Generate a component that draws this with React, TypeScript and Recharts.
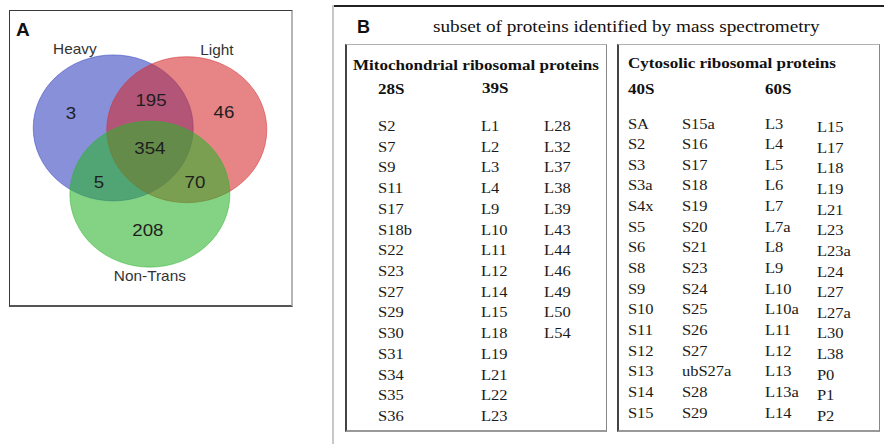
import { ScatterChart, Scatter, XAxis, YAxis } from "recharts";

// ---- panel A: Venn of identified proteins ----
const SET_NAMES = ["Heavy", "Light", "Non-Trans"];
// region order: H only, H∩L, L only, all three, H∩N, L∩N, N only
const REGION_COUNTS = [3, 195, 46, 354, 5, 70, 208];

// ---- panel B: protein lists ----
const MITO_28S = ["S2", "S7", "S9", "S11", "S17", "S18b", "S22", "S23", "S27", "S29", "S30", "S31", "S34", "S35", "S36"];
const MITO_39S = [
  "L1", "L2", "L3", "L4", "L9", "L10", "L11", "L12", "L14", "L15", "L18", "L19", "L21", "L22", "L23",
  "L28", "L32", "L37", "L38", "L39", "L43", "L44", "L46", "L49", "L50", "L54",
];
const CYTO_40S = [
  "SA", "S2", "S3", "S3a", "S4x", "S5", "S6", "S8", "S9", "S10", "S11", "S12", "S13", "S14", "S15",
  "S15a", "S16", "S17", "S18", "S19", "S20", "S21", "S23", "S24", "S25", "S26", "S27", "ubS27a", "S28", "S29",
];
const CYTO_60S = [
  "L3", "L4", "L5", "L6", "L7", "L7a", "L8", "L9", "L10", "L10a", "L11", "L12", "L13", "L13a", "L14",
  "L15", "L17", "L18", "L19", "L21", "L23", "L23a", "L24", "L27", "L27a", "L30", "L38", "P0", "P1", "P2",
];

// layout (percent of panel A box) - kept apart from the values
const SET_CENTERS = [[36.7, 39.7], [62.6, 40.3], [49.6, 62.0]];
const SET_LABEL_POS = [[23.2, 13.1], [73.2, 13.5], [49.6, 89.6]];
const REGION_POS = [[21.8, 34.7], [50.0, 30.3], [75.7, 34.3], [49.6, 46.5], [31.7, 57.9], [65.5, 57.9], [48.9, 74.1]];
const SET_COLORS = ["#3140be", "#d42b2f", "#2bb42b"];

const ROWS = 15;
const MITO_COL_X = [0.126, 0.519, 0.76];
const CYTO_COL_X = [0.038, 0.245, 0.563, 0.762];
const CYTO_COL_DY = [-1, -1, -1, 2.5];

const STRETCH = 1.1;
const SANS = "'Liberation Sans', Arial, sans-serif";
const SERIF = "'Liberation Serif', 'Times New Roman', serif";

const splitCols = (list: string[]) => {
  const out: string[][] = [];
  for (let i = 0; i < list.length; i += ROWS) out.push(list.slice(i, i + ROWS));
  return out;
};

const tablePoints = (cols: string[][], colX: number[], colDy?: number[]) =>
  cols.flatMap((col, c) =>
    col.map((label, row) => ({ x: colX[c], row, label, dy: colDy ? colDy[c] : 0 })),
  );

const setData = SET_NAMES.map((name, i) => ({ name, x: SET_CENTERS[i][0], y: SET_CENTERS[i][1], color: SET_COLORS[i] }));
const setLabelData = SET_NAMES.map((name, i) => ({ name, x: SET_LABEL_POS[i][0], y: SET_LABEL_POS[i][1] }));
const regionData = REGION_COUNTS.map((v, i) => ({ v, x: REGION_POS[i][0], y: REGION_POS[i][1] }));

const mitoData = tablePoints([MITO_28S, ...splitCols(MITO_39S)], MITO_COL_X);
const cytoData = tablePoints([...splitCols(CYTO_40S), ...splitCols(CYTO_60S)], CYTO_COL_X, CYTO_COL_DY);

const SetBlob = (p: any) => (
  <ellipse
    cx={p.cx}
    cy={p.cy}
    rx={80}
    ry={73}
    fill={p.payload.color}
    fillOpacity={0.58}
    stroke={p.payload.color}
    strokeOpacity={0.5}
    strokeWidth={1}
  />
);

const SetLabel = (p: any) => (
  <text
    transform={`translate(${p.cx},${p.cy + 5}) scale(${STRETCH},1)`}
    textAnchor="middle"
    fontFamily={SANS}
    fontSize={14}
    fill="#333"
  >
    {p.payload.name}
  </text>
);

const RegionLabel = (p: any) => (
  <text
    transform={`translate(${p.cx},${p.cy + 6}) scale(${STRETCH},1)`}
    textAnchor="middle"
    fontFamily={SANS}
    fontSize={17}
    fill="#1e1e1e"
  >
    {p.payload.v}
  </text>
);

const CellText = (p: any) => (
  <text
    transform={`translate(${p.cx},${p.cy + p.payload.dy}) scale(${STRETCH},1)`}
    fontFamily={SERIF}
    fontSize={15}
    fill="#1a1a1a"
  >
    {p.payload.label}
  </text>
);

const Stretched = ({ x, y, size, bold, children, family = SERIF }: any) => (
  <text
    transform={`translate(${x},${y}) scale(${STRETCH},1)`}
    fontFamily={family}
    fontSize={size}
    fontWeight={bold ? 700 : 400}
    fill="#111"
  >
    {children}
  </text>
);

function ProteinTable({ data, width, height, top, bottom }: any) {
  return (
    <ScatterChart width={width} height={height} margin={{ top, bottom, left: 0, right: 0 }}>
      <XAxis type="number" dataKey="x" domain={[0, 1]} hide />
      <YAxis type="number" dataKey="row" domain={[0, ROWS - 1]} reversed hide />
      <Scatter data={data} shape={CellText} isAnimationActive={false} />
    </ScatterChart>
  );
}

export default function App() {
  return (
    <div style={{ position: "absolute", left: 0, top: 0, width: 884, height: 444, background: "#fff", overflow: "hidden" }}>
      {/* frames */}
      <div
        style={{
          position: "absolute", left: 9, top: 10, width: 284, height: 297, boxSizing: "border-box",
          borderTop: "1px solid #3a3a3a", borderLeft: "1px solid #3a3a3a",
          borderRight: "2px solid #b5b5b5", borderBottom: "2px solid #555",
        }}
      />
      <div style={{ position: "absolute", left: 333, top: 5, width: 551, height: 2, background: "#222" }} />
      <div style={{ position: "absolute", left: 332, top: 5, width: 2, height: 439, background: "#c8c8c8" }} />
      {[345, 617].map((left, i) => (
        <div
          key={i}
          style={{
            position: "absolute", left, top: 44, width: i === 0 ? 262 : 263, height: 388, boxSizing: "border-box",
            borderTop: "1px solid #b0b0b0", borderRight: "1px solid #888",
            borderBottom: "2px solid #999", borderLeft: "2px solid #444",
          }}
        />
      ))}

      {/* titles and headers */}
      <svg width={884} height={444} style={{ position: "absolute", left: 0, top: 0 }}>
        <text x={16} y={36} fontFamily={SANS} fontSize={19} fontWeight={700} fill="#111">A</text>
        <text x={357} y={33} fontFamily={SANS} fontSize={18} fontWeight={700} fill="#111">B</text>
        <Stretched x={433} y={32} size={17.5}>subset of proteins identified by mass spectrometry</Stretched>
        <Stretched x={353} y={70} size={15.5} bold>Mitochondrial ribosomal proteins</Stretched>
        <Stretched x={378} y={94} size={15.5} bold>28S</Stretched>
        <Stretched x={482} y={93} size={15.5} bold>39S</Stretched>
        <Stretched x={628} y={68} size={15.5} bold>Cytosolic ribosomal proteins</Stretched>
        <Stretched x={628} y={94} size={15.5} bold>40S</Stretched>
        <Stretched x={765} y={94} size={15.5} bold>60S</Stretched>
      </svg>

      {/* panel A venn */}
      <div style={{ position: "absolute", left: 9, top: 10 }}>
        <ScatterChart width={284} height={297} margin={{ top: 0, right: 0, bottom: 0, left: 0 }}>
          <XAxis type="number" dataKey="x" domain={[0, 100]} hide />
          <YAxis type="number" dataKey="y" domain={[0, 100]} reversed hide />
          <Scatter data={setData} shape={SetBlob} isAnimationActive={false} />
          <Scatter data={setLabelData} shape={SetLabel} isAnimationActive={false} />
          <Scatter data={regionData} shape={RegionLabel} isAnimationActive={false} />
        </ScatterChart>
      </div>

      {/* panel B tables */}
      <div style={{ position: "absolute", left: 345, top: 45 }}>
        <ProteinTable data={mitoData} width={262} height={387} top={86} bottom={11} />
      </div>
      <div style={{ position: "absolute", left: 618, top: 45 }}>
        <ProteinTable data={cytoData} width={261} height={387} top={84.5} bottom={13.5} />
      </div>
    </div>
  );
}
